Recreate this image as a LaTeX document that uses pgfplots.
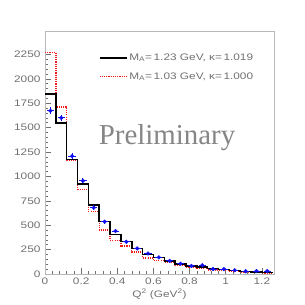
\documentclass[border=0pt]{standalone}
\usepackage{pgfplots}
\pgfplotsset{compat=1.18}
\usepackage{fontspec}
\setmainfont{Liberation Sans}
\newfontfamily\rootfont[FakeStretch=1.25]{Liberation Sans}
\newfontfamily\prelimfont{Liberation Serif}
\definecolor{tickgray}{HTML}{707070}
\definecolor{framegray}{HTML}{B8B8B8}
\definecolor{dotblue}{HTML}{1010F0}
\definecolor{histred}{HTML}{F01818}
\pgfplotstableread{
x y
0.00 1843
0.06 1545
0.12 1175
0.18 920
0.24 705
0.30 536
0.36 403
0.42 335
0.48 260
0.54 200
0.60 170
0.66 135
0.72 102
0.78 82
0.84 73
0.90 55
0.96 47
1.02 37
1.08 28
1.14 20
1.20 14
1.26 14
}\blackhist
\pgfplotstableread{
x y
0.00 2270
0.06 1713
0.12 1160
0.18 867
0.24 640
0.30 450
0.36 345
0.42 287
0.48 225
0.54 165
0.60 140
0.66 115
0.72 85
0.78 65
0.84 60
0.90 42
0.96 38
1.02 27
1.08 20
1.14 14
1.20 10
1.26 10
}\redhist
\pgfplotstableread{
x y ex ey
0.03 1672 0.02 35
0.09 1600 0.02 33
0.15 1208 0.02 28
0.21 955 0.02 25
0.27 680 0.02 22
0.33 536 0.02 20
0.39 440 0.02 18
0.45 330 0.02 16
0.51 262 0.02 14
0.57 210 0.02 13
0.63 170 0.02 12
0.69 134 0.02 11
0.75 105 0.02 10
0.81 82 0.02 9
0.87 90 0.02 9
0.93 51 0.02 7
0.99 50 0.02 7
1.05 38 0.02 6
1.11 28 0.02 5
1.17 30 0.02 5
1.23 30 0.02 5
}\datapts
\begin{document}
\begin{tikzpicture}
\useasboundingbox (0,0) rectangle (305bp,305bp);
\begin{axis}[
  scale only axis,
  width=229bp, height=243bp,
  at={(45bp,31bp)}, anchor=south west,
  xmin=0, xmax=1.267, ymin=0, ymax=2490,
  axis line style={framegray, line width=0.6pt},
  tick align=inside,
  tick style={tickgray, line width=0.5pt},
  major tick length=6bp, minor tick length=3bp,
  xtick={0,0.2,0.4,0.6,0.8,1,1.2},
  xticklabels={0,0.2,0.4,0.6,0.8,1,1.2},
  ytick={0,250,500,750,1000,1250,1500,1750,2000,2250},
  yticklabels={0,250,500,750,1000,1250,1500,1750,2000,2250},
  minor x tick num=4, minor y tick num=4,
  xtick pos=bottom, ytick pos=left,
  ticklabel style={font=\rootfont\fontsize{9.5}{11}\selectfont, text=tickgray},
  yticklabel style={xshift=-1bp},
  xlabel={Q\textsuperscript{2} (GeV\textsuperscript{2})},
  xlabel style={font=\rootfont\fontsize{9.5}{11}\selectfont, text=tickgray, yshift=2bp},
  legend style={at={(rel axis cs:0.235,0.915)}, anchor=north west, draw=none, fill=none,
     font=\rootfont\fontsize{9.5}{11}\selectfont, text=tickgray, row sep=6.5bp,
     inner sep=0pt},
  legend cell align=left,
  legend image code/.code={\draw[#1] (0bp,0bp) -- (27bp,0bp);},
  clip=false,
]
\addlegendimage{black, line width=1.3pt}
\addlegendentry{M\textsubscript{A}=\,1.23 GeV, κ=\,1.019}
\addlegendimage{histred, line width=1.3pt, dash pattern=on 1.1bp off 1.1bp}
\addlegendentry{M\textsubscript{A}=\,1.03 GeV, κ=\,1.000}
\addplot[forget plot, histred, line width=1.4pt, dash pattern=on 1.1bp off 1.1bp, const plot mark left]
  table[x=x,y=y] {\redhist};
\addplot[forget plot, black, line width=1.5pt, const plot mark left]
  table[x=x,y=y] {\blackhist};
\addplot[forget plot, only marks, mark=*, mark size=1.9pt, dotblue,
   error bars/.cd, x dir=both, x explicit, y dir=both, y explicit,
   error mark=none, error bar style={dotblue, line width=1pt}]
   table[x=x,y=y,x error=ex,y error=ey] {\datapts};
\node[text=gray!95, font=\prelimfont\fontsize{29}{32}\selectfont] at (rel axis cs:0.533,0.56) {Preliminary};
\end{axis}
\end{tikzpicture}
\end{document}
